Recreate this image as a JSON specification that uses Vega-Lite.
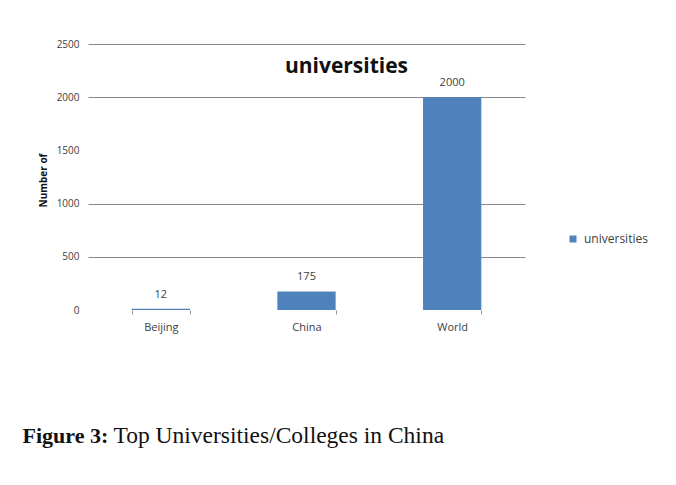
{
  "$schema": "https://vega.github.io/schema/vega-lite/v6.json",
  "width": 437,
  "height": 266,
  "autosize": {"type": "none"},
  "padding": {"left": 88, "top": 44, "right": 151, "bottom": 175},
  "background": "white",
  "config": {"view": {"stroke": null}},
  "title": {
    "text": "universities",
    "orient": "top",
    "anchor": "middle",
    "dx": 40,
    "offset": -38,
    "font": "Open Sans",
    "fontSize": 21,
    "fontWeight": "bold",
    "color": "#111111"
  },
  "data": {
    "values": [
      {"region": "Beijing", "universities": 12},
      {"region": "China", "universities": 175},
      {"region": "World", "universities": 2000}
    ]
  },
  "layer": [
    {
      "mark": {"type": "bar", "color": "#4F81BD"},
      "encoding": {
        "x": {
          "field": "region",
          "type": "nominal",
          "sort": null,
          "scale": {"paddingInner": 0.6, "paddingOuter": 0.3},
          "axis": {
            "labelAngle": 0,
            "labelFont": "Open Sans",
            "labelFontSize": 11,
            "labelColor": "#404040",
            "labelPadding": 7,
            "ticks": true,
            "tickBand": "extent",
            "tickSize": 4,
            "tickColor": "#999999",
            "domain": false,
            "grid": false,
            "title": "Top Universities/Colleges in China",
            "titleFont": "Liberation Serif",
            "titleFontSize": 23.5,
            "titleFontWeight": "normal",
            "titleColor": "#111111",
            "titleX": 25,
            "titleY": 132,
            "titleAlign": "left",
            "titleAnchor": null,
            "titleBaseline": "alphabetic"
          }
        },
        "y": {
          "field": "universities",
          "type": "quantitative",
          "scale": {"domain": [0, 2500], "nice": false},
          "axis": {
            "values": [0, 500, 1000, 1500, 2000, 2500],
            "format": "d",
            "labelFont": "Open Sans",
            "labelFontSize": 10,
            "labelColor": "#404040",
            "labelPadding": 9,
            "ticks": false,
            "domain": false,
            "grid": true,
            "gridColor": "#868686",
            "gridWidth": 1,
            "gridOpacity": {"condition": {"test": "datum.value == 1500 || datum.value == 0", "value": 0}, "value": 1},
            "title": "Number of",
            "titleFont": "Open Sans",
            "titleFontSize": 10,
            "titleFontWeight": "bold",
            "titleColor": "#111111",
            "titleAngle": -90,
            "titleX": -45,
            "titleY": 136,
            "titleAlign": "center",
            "titleBaseline": "middle"
          }
        },
        "color": {
          "datum": "universities",
          "type": "nominal",
          "scale": {"range": ["#4F81BD"]},
          "legend": {
            "title": null,
            "orient": "none",
            "legendX": 479,
            "legendY": 189,
            "padding": 0,
            "symbolType": "square",
            "symbolSize": 49,
            "symbolStrokeWidth": 0,
            "labelFont": "Open Sans",
            "labelFontSize": 12,
            "labelColor": "#404040",
            "labelOffset": 5
          }
        }
      }
    },
    {
      "mark": {"type": "text", "dy": -14, "font": "Open Sans", "fontSize": 11, "color": "#404040"},
      "encoding": {
        "x": {"field": "region", "type": "nominal", "sort": null},
        "y": {
          "field": "universities",
          "type": "quantitative",
          "scale": {"domain": [0, 2500], "nice": false},
          "axis": {
            "orient": "right",
            "labels": false,
            "ticks": false,
            "domain": false,
            "grid": false,
            "title": "Figure 3:",
            "titleFont": "Liberation Serif",
            "titleFontSize": 22,
            "titleFontWeight": "bold",
            "titleColor": "#111111",
            "titleAngle": 0,
            "titleX": -503,
            "titleY": 398,
            "titleAlign": "left",
            "titleBaseline": "alphabetic"
          }
        },
        "text": {"field": "universities", "type": "quantitative"}
      }
    }
  ],
  "resolve": {"scale": {"y": "independent"}, "axis": {"y": "independent"}}
}
